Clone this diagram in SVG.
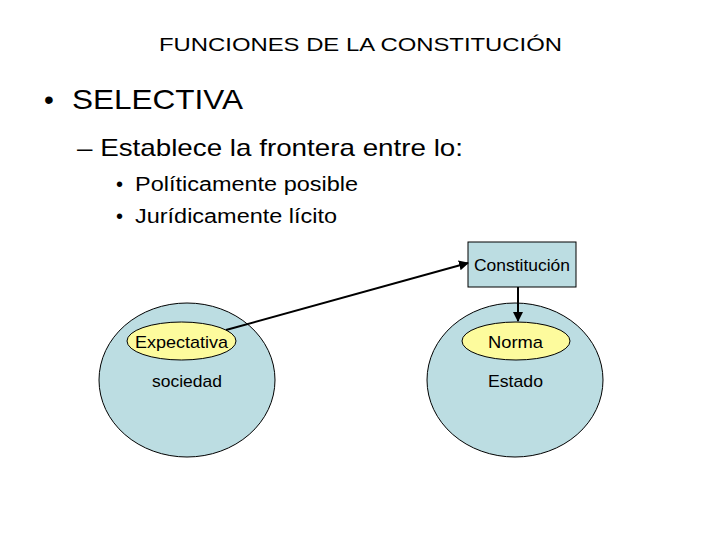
<svg xmlns="http://www.w3.org/2000/svg" width="720" height="540" viewBox="0 0 720 540">
<defs>
<style>
text{font-family:"Liberation Sans",Arial,sans-serif;fill:#000}
.big{fill:#bcdde2;stroke:#000;stroke-width:1}
.small{fill:#fdfb9d;stroke:#000;stroke-width:1}
.lbl{font-size:17px}
.conn{stroke:#000;stroke-width:2;fill:none;marker-end:url(#ah)}
</style>
<marker id="ah" viewBox="0 0 10 10" refX="9" refY="5" markerWidth="5" markerHeight="5" orient="auto">
<path d="M0,0 L10,5 L0,10 z" fill="#000"/>
</marker>
</defs>
<rect width="720" height="540" fill="#fff"/>
<text x="159" y="51" font-size="19" textLength="403" lengthAdjust="spacingAndGlyphs">FUNCIONES DE LA CONSTITUCIÓN</text>
<text x="44" y="109" font-size="28">•</text>
<text x="72" y="109" font-size="28" textLength="171" lengthAdjust="spacingAndGlyphs">SELECTIVA</text>
<text x="77" y="156" font-size="24" textLength="386" lengthAdjust="spacingAndGlyphs">– Establece la frontera entre lo:</text>
<text x="116" y="191" font-size="20">•</text>
<text x="135" y="191" font-size="20" textLength="223" lengthAdjust="spacingAndGlyphs">Políticamente posible</text>
<text x="116" y="223" font-size="20">•</text>
<text x="135" y="223" font-size="20" textLength="202" lengthAdjust="spacingAndGlyphs">Jurídicamente lícito</text>
<g id="sociedad">
<ellipse class="big" cx="187" cy="380" rx="88" ry="77"/>
<text class="lbl" x="152" y="387" textLength="70" lengthAdjust="spacingAndGlyphs">sociedad</text>
</g>
<g id="expectativa">
<ellipse class="small" cx="181.5" cy="341" rx="54.5" ry="19"/>
<text class="lbl" x="135" y="348" textLength="93" lengthAdjust="spacingAndGlyphs">Expectativa</text>
</g>
<g id="estado">
<ellipse class="big" cx="515" cy="380" rx="88" ry="77"/>
<text class="lbl" x="488" y="387" textLength="55" lengthAdjust="spacingAndGlyphs">Estado</text>
</g>
<g id="norma">
<ellipse class="small" cx="516" cy="341" rx="54" ry="19"/>
<text class="lbl" x="488" y="348" textLength="55" lengthAdjust="spacingAndGlyphs">Norma</text>
</g>
<g id="constitucion">
<rect class="big" x="468" y="242" width="108" height="45"/>
<text class="lbl" x="474" y="271" textLength="96" lengthAdjust="spacingAndGlyphs">Constitución</text>
</g>
<g id="connectors">
<line class="conn" x1="226" y1="330" x2="468" y2="263"/>
<line class="conn" x1="518" y1="287" x2="518" y2="321"/>
</g>
</svg>
